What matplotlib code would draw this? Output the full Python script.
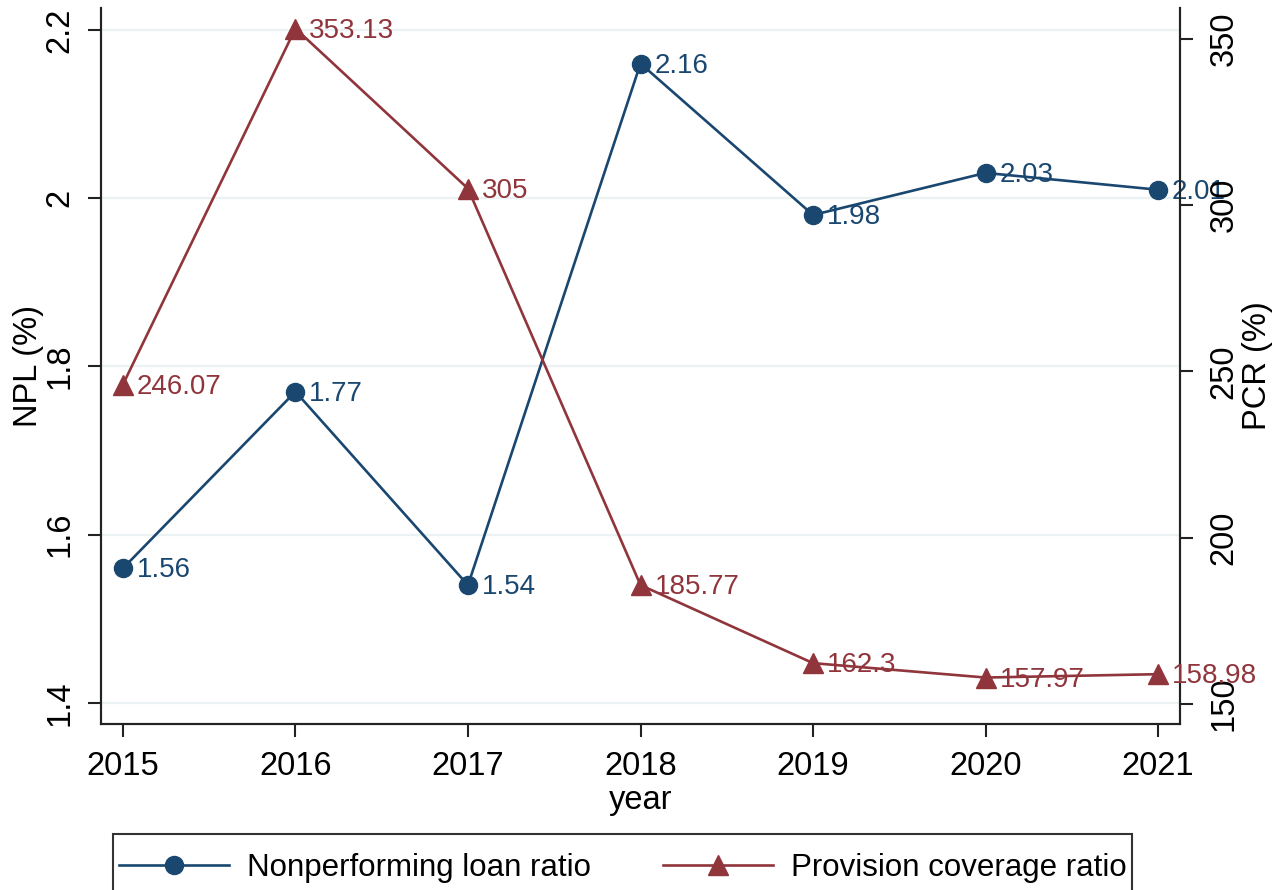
import matplotlib
matplotlib.use("Agg")
import matplotlib.pyplot as plt
from matplotlib.lines import Line2D
from matplotlib.patches import Rectangle

plt.rcParams['font.family'] = ['Liberation Sans', 'DejaVu Sans']

years = [2015, 2016, 2017, 2018, 2019, 2020, 2021]
npl = [1.56, 1.77, 1.54, 2.16, 1.98, 2.03, 2.01]
pcr = [246.07, 353.13, 305, 185.77, 162.3, 157.97, 158.98]
npl_labels = ["1.56", "1.77", "1.54", "2.16", "1.98", "2.03", "2.01"]
pcr_labels = ["246.07", "353.13", "305", "185.77", "162.3", "157.97", "158.98"]
left_ticks = [1.4, 1.6, 1.8, 2.0, 2.2]
left_ticklabels = ["1.4", "1.6", "1.8", "2", "2.2"]
right_ticks = [150, 200, 250, 300, 350]

navy = "#1a476f"
maroon = "#90353b"

W, H = 1288, 890
fig = plt.figure(figsize=(W / 100, H / 100), dpi=100)
ax = fig.add_axes([101 / W, (H - 724) / H, (1180 - 101) / W, (724 - 8) / H])
ax2 = ax.twinx()

tick_fs = 23.5
lab_fs = 20
leg_fs = 22.5

ax.set_xlim(2014.873, 2021.127)
ax.set_ylim(1.375, 2.226)
ax2.set_ylim(144.0, 359.3)

for y in left_ticks:
    ax.axhline(y, color="#eaf2f3", lw=1.6, zorder=0)

ax.plot(years, npl, color=navy, lw=1.9, marker="o", ms=13, zorder=3, clip_on=False)
ax2.plot(years, pcr, color=maroon, lw=1.9, marker="^", ms=14, zorder=3, clip_on=False)

for x, y, t in zip(years, npl, npl_labels):
    ax.annotate(t, (x, y), xytext=(10, -1.5), textcoords="offset points",
                ha="left", va="center", color=navy, fontsize=lab_fs, annotation_clip=False)
for x, y, t in zip(years, pcr, pcr_labels):
    ax2.annotate(t, (x, y), xytext=(10, -1.5), textcoords="offset points",
                 ha="left", va="center", color=maroon, fontsize=lab_fs, annotation_clip=False)

ax.set_xticks(years)
ax.set_xticklabels([str(y) for y in years], fontsize=tick_fs)
ax.set_yticks(left_ticks)
ax.set_yticklabels(left_ticklabels, fontsize=tick_fs, rotation=90, va="center")
ax2.set_yticks(right_ticks)
ax2.set_yticklabels([str(v) for v in right_ticks], fontsize=tick_fs, rotation=90, va="center")

for a in (ax, ax2):
    a.spines["top"].set_visible(False)
    for s in ("left", "right", "bottom"):
        a.spines[s].set_linewidth(1.5)
        a.spines[s].set_color("#222222")
    a.tick_params(axis="both", length=9.5, width=1.5, color="#222222")
ax.tick_params(axis="x", pad=10)
ax.tick_params(axis="y", pad=9)
ax2.tick_params(axis="y", pad=11)

ax.set_xlabel("year", fontsize=tick_fs, labelpad=2)
ax.set_ylabel("NPL (%)", fontsize=tick_fs, labelpad=0)
ax2.set_ylabel("PCR (%)", fontsize=tick_fs, labelpad=2)

# legend frame (extends past the bottom edge as in the reference)
fig.patches.append(Rectangle((113 / W, -0.05), (1132 - 113) / W, (H - 834) / H + 0.05,
                             transform=fig.transFigure, fill=False,
                             edgecolor="#333333", lw=1.5))

handles = [
    Line2D([], [], color=navy, lw=1.9, marker="o", ms=13),
    Line2D([], [], color=maroon, lw=1.9, marker="^", ms=14),
]
leg = fig.legend(handles, ["Nonperforming loan ratio", "Provision coverage ratio"],
                 loc="upper center", bbox_to_anchor=(622.5 / W, (H - 841) / H),
                 ncol=2, fontsize=leg_fs, frameon=False,
                 handlelength=3.52, columnspacing=2.3,
                 handletextpad=0.58, borderpad=0.38, borderaxespad=0)

fig.savefig("out.png", dpi=100)
